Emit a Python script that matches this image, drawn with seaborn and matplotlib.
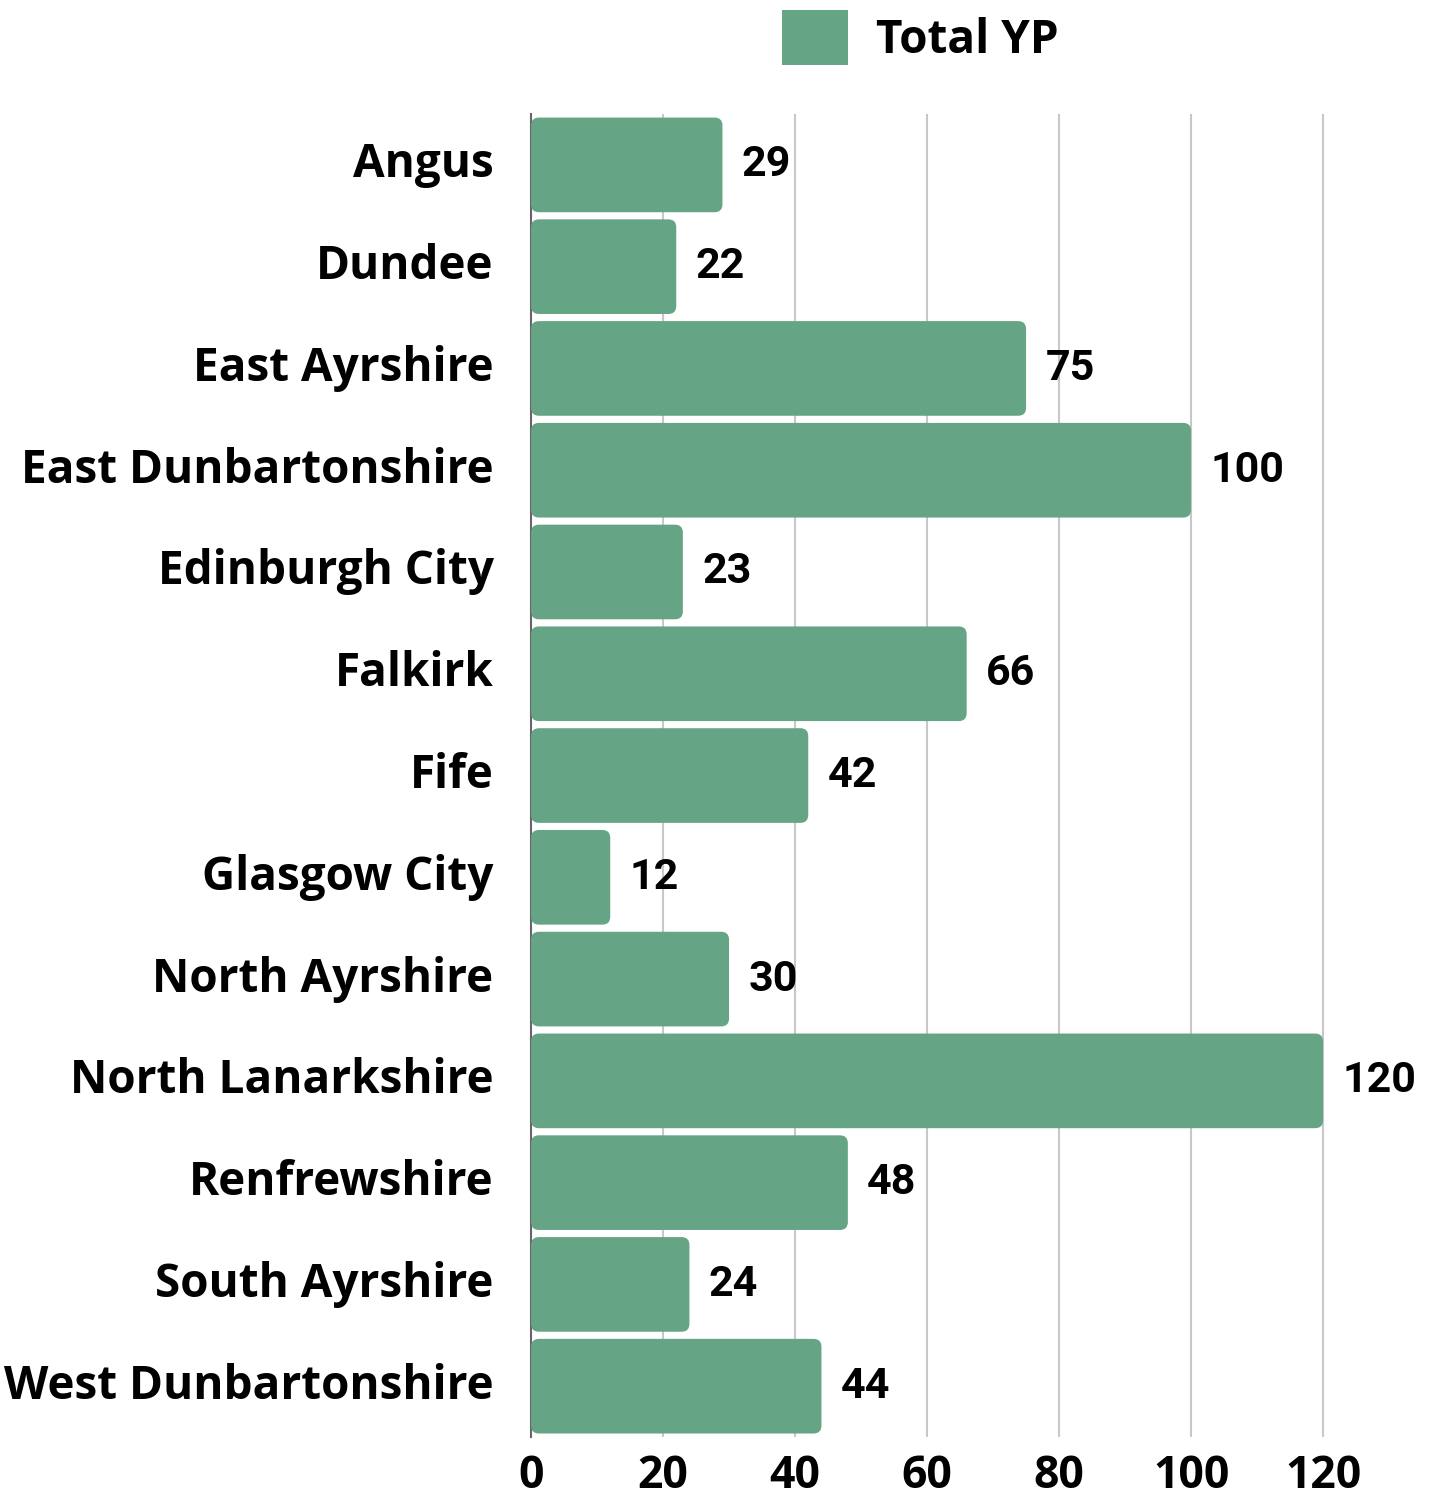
import matplotlib
matplotlib.use("Agg")
import matplotlib.pyplot as plt
import seaborn as sns
import pandas as pd
from matplotlib.patches import FancyBboxPatch, Patch
from matplotlib import font_manager

regions = ["Angus", "Dundee", "East Ayrshire", "East Dunbartonshire", "Edinburgh City",
           "Falkirk", "Fife", "Glasgow City", "North Ayrshire", "North Lanarkshire",
           "Renfrewshire", "South Ayrshire", "West Dunbartonshire"]
total_yp = [29, 22, 75, 100, 23, 66, 42, 12, 30, 120, 48, 24, 44]
x_ticks = [0, 20, 40, 60, 80, 100, 120]
series_name = "Total YP"

COLOR = "#66A486"

sns.set_theme(style="white")
names = {f.name for f in font_manager.fontManager.ttflist}
cond = "Liberation Sans Narrow" if "Liberation Sans Narrow" in names else "Roboto"
plt.rcParams['font.family'] = ['Open Sans', 'DejaVu Sans']
plt.rcParams['text.color'] = 'black'

df = pd.DataFrame({"region": regions, "value": total_yp})

fig = plt.figure(figsize=(14.31, 15.04), dpi=100)
ax = fig.add_axes([0.3711, 0.0445, 0.5996, 0.8797])
sns.barplot(data=df, x="value", y="region", color=COLOR, saturation=1, width=0.93,
            ax=ax, zorder=3)
ax.set_xlim(0, 130)
ax.set_ylim(len(regions) - 0.5, -0.5)
ax.set_xticks(x_ticks)
ax.set_xlabel("")
ax.set_ylabel("")

# rounded bars
xpx = ax.get_window_extent().width / 130
ypx = ax.get_window_extent().height / len(regions)
for p in list(ax.patches):
    x0, y0 = p.get_x(), p.get_y()
    w, h = p.get_width(), p.get_height()
    p.remove()
    fb = FancyBboxPatch((x0, y0), w, h,
                        boxstyle="round,pad=0,rounding_size=1.2",
                        mutation_aspect=xpx / ypx,
                        facecolor=COLOR, edgecolor="none", zorder=3)
    ax.add_patch(fb)
    ax.annotate(f"{w:.0f}", (x0 + w, y0 + h / 2), xytext=(14, 0), textcoords="offset points",
                ha="left", va="center", fontsize=31, fontweight="bold", family=[cond, 'DejaVu Sans'],
                color="black")

ax.grid(axis="x", color="#c8c8c8", linewidth=1.5, zorder=0)
for s in ["top", "right", "bottom"]:
    ax.spines[s].set_visible(False)
ax.spines["left"].set_color("#666666")
ax.spines["left"].set_linewidth(1.5)
ax.tick_params(axis="y", length=0, pad=27, labelsize=33)
ax.tick_params(axis="x", length=0, pad=12, labelsize=32)
for t in ax.get_yticklabels():
    t.set_fontweight("bold")
    t.set_color("black")
    t.set_va("center")
for t in ax.get_xticklabels():
    t.set_fontweight("bold")
    t.set_color("black")

handle = Patch(facecolor=COLOR, edgecolor="none")
leg = fig.legend([handle], [series_name], loc="center", bbox_to_anchor=(0.643, 0.975), frameon=False,
                 prop={"weight": "bold", "size": 33}, handlelength=1.45, handleheight=1.45,
                 handletextpad=0.6)
for t in leg.get_texts():
    t.set_color("black")

fig.savefig("out.png", dpi=100)
